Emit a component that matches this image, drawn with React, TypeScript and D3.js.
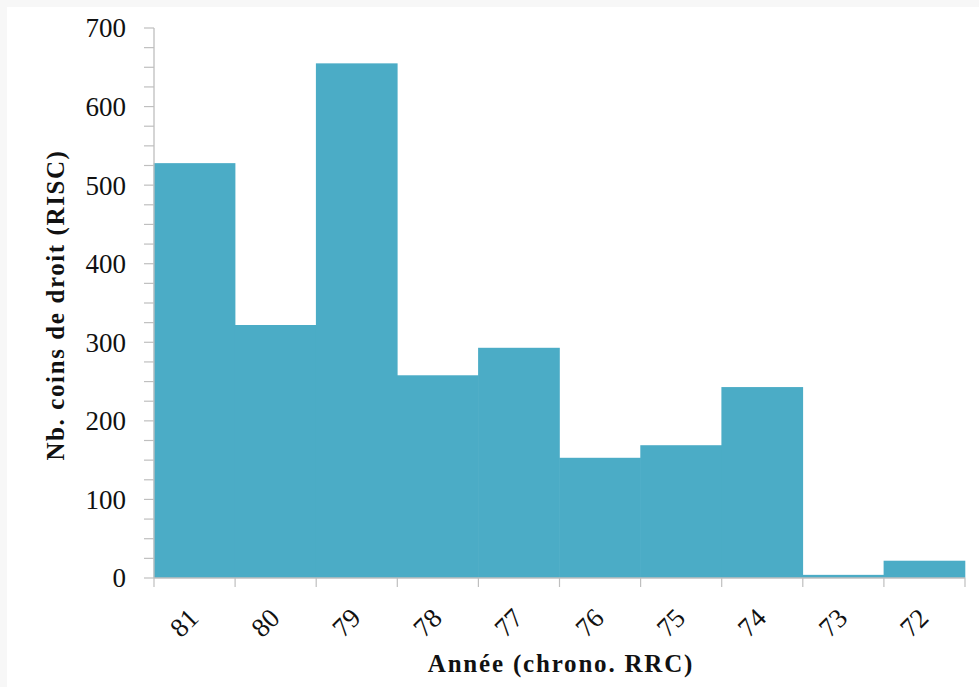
import React from "react";
import * as d3 from "d3";

const categories = ["81", "80", "79", "78", "77", "76", "75", "74", "73", "72"];
const values = [528, 322, 655, 258, 293, 153, 169, 243, 4, 22];
const yTicks = [0, 100, 200, 300, 400, 500, 600, 700];
const xTitle = "Année (chrono. RRC)";
const yTitle = "Nb. coins de droit (RISC)";

const W = 979;
const H = 687;
const left = 154;
const right = 965;
const top = 28;
const bottom = 578;
const FONT = "'Liberation Serif', 'DejaVu Serif', serif";

export default function App() {
  const x = d3.scaleBand<string>().domain(categories).range([left, right]).padding(0);
  const y = d3.scaleLinear().domain([0, 700]).range([bottom, top]);
  const minor = d3.range(0, 701, 25);
  const axisColor = "#bfbfbf";
  const bw = x.bandwidth();
  return (
    <svg width={W} height={H} style={{ position: "absolute", left: 0, top: 0, background: "#ffffff" }}>
      <rect x={0} y={0} width={W} height={7} fill="#f7f7f7" />
      <rect x={0} y={0} width={7} height={H} fill="#f7f7f7" />
      {categories.map((c, i) => (
        <rect
          key={c}
          x={(x(c) as number) - 0.3}
          y={y(values[i])}
          width={bw + 0.6}
          height={y(0) - y(values[i])}
          fill="#4BACC6"
        />
      ))}
      {/* y axis */}
      <line x1={left} x2={left} y1={top} y2={bottom} stroke={axisColor} strokeWidth={1.3} />
      {minor.map((t) => (
        <line key={"m" + t} x1={left - 10} x2={left} y1={y(t)} y2={y(t)} stroke={axisColor} strokeWidth={1.2} />
      ))}
      {yTicks.map((t) => (
        <text
          key={"t" + t}
          x={126}
          y={y(t)}
          dy="0.35em"
          textAnchor="end"
          fontFamily={FONT}
          fontSize={27}
          fill="#111"
        >
          {t}
        </text>
      ))}
      {/* x axis */}
      <line x1={left} x2={right} y1={bottom} y2={bottom} stroke={axisColor} strokeWidth={1.3} />
      {[...categories.map((c) => x(c) as number), right].map((px, i) => (
        <line key={"xt" + i} x1={px} x2={px} y1={bottom} y2={bottom + 9} stroke={axisColor} strokeWidth={1.2} />
      ))}
      {categories.map((c) => {
        const cx = (x(c) as number) + bw / 2 - 8;
        const cy = 606;
        return (
          <text
            key={"xl" + c}
            x={cx}
            y={cy}
            textAnchor="end"
            dominantBaseline="hanging"
            transform={`rotate(-45, ${cx}, ${cy})`}
            fontFamily={FONT}
            fontSize={27}
            fill="#111"
          >
            {c}
          </text>
        );
      })}
      <text
        x={561}
        y={672}
        textAnchor="middle"
        fontFamily={FONT}
        fontSize={25}
        fontWeight="bold"
        letterSpacing={1.8}
        fill="#111"
      >
        {xTitle}
      </text>
      <text
        transform={`translate(64, 305) rotate(-90)`}
        textAnchor="middle"
        fontFamily={FONT}
        fontSize={25}
        fontWeight="bold"
        letterSpacing={1.6}
        fill="#111"
      >
        {yTitle}
      </text>
    </svg>
  );
}
